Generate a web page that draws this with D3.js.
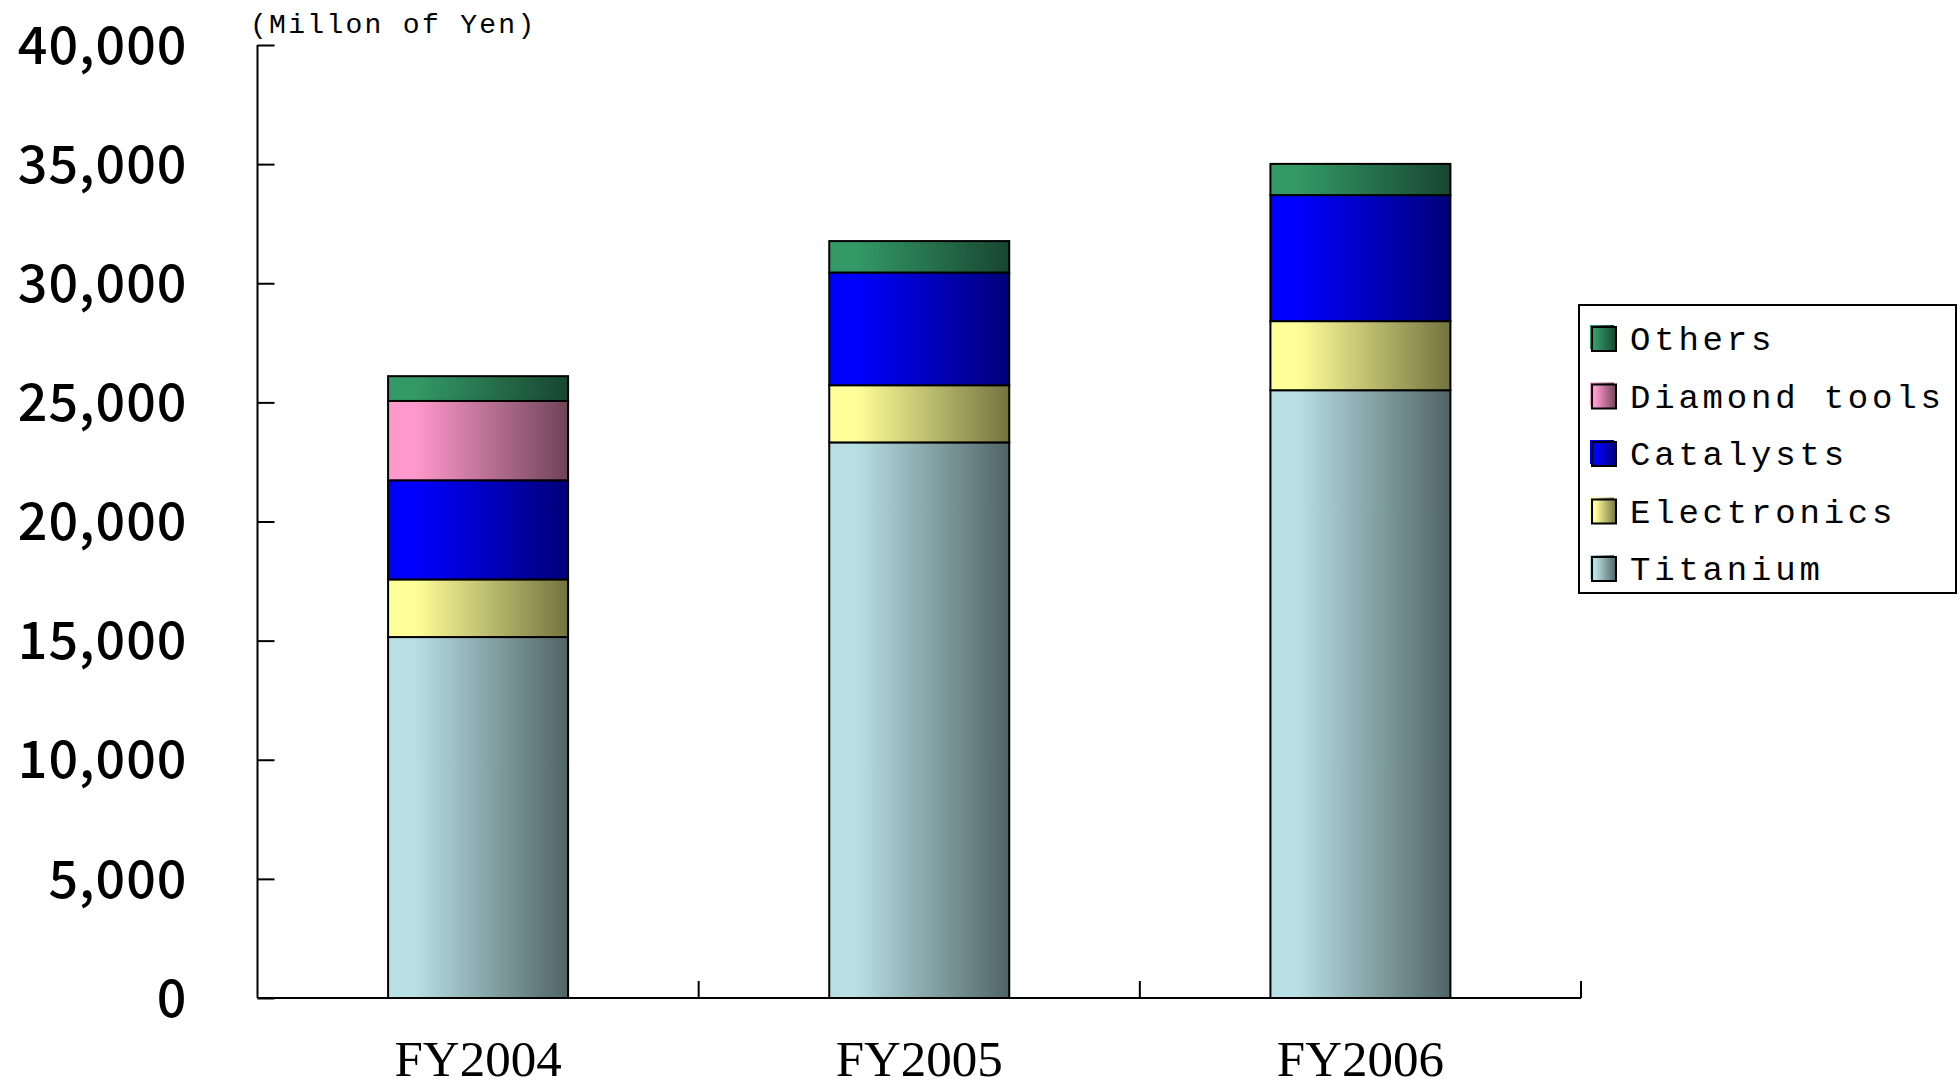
<!DOCTYPE html>
<html>
<head>
<meta charset="utf-8">
<script src="https://cdn.jsdelivr.net/npm/d3@7"></script>
<style>
  body { margin: 0; background: #fff; }
</style>
</head>
<body>
<div id="chart"></div>
<script>
// data (Millon of Yen)
var categories = ["FY2004", "FY2005", "FY2006"]
var seriesNames = ["Titanium", "Electronics", "Catalysts", "Diamond tools", "Others"]
var titanium = [15150, 23320, 25510]
var electronics = [2420, 2400, 2900]
var catalysts = [4160, 4730, 5290]
var diamondTools = [3330, 0, 0]
var others = [1040, 1320, 1310]
var yTicks = [0, 5000, 10000, 15000, 20000, 25000, 30000, 35000, 40000]

var seriesValues = [titanium, electronics, catalysts, diamondTools, others]
var lightColors = ["#b8e0e4", "#ffff99", "#0000ff", "#ff99cc", "#339966"]
var darkColors = ["#506466", "#737340", "#000078", "#6e4458", "#184630"]

var width = 1960, height = 1090
var margin = {top: 45, right: 379, bottom: 92, left: 257.5}

var svg = d3.select("#chart")
    .append("svg")
    .attr("width", width)
    .attr("height", height)

var table = categories.map(function(c, i){
    var row = {cat: c}
    seriesNames.forEach(function(s, j){ row[s] = seriesValues[j][i] })
    return row
})
var stacked = d3.stack().keys(seriesNames)(table)

var x = d3.scaleBand()
    .domain(categories)
    .range([margin.left, width - margin.right])
    .paddingInner(0.592)
    .paddingOuter(0.296)

var y = d3.scaleLinear()
    .domain([0, 40000])
    .range([height - margin.bottom, margin.top])

// gradients
var defs = svg.append("defs")
seriesNames.forEach(function(s, j){
    var g = defs.append("linearGradient")
        .attr("id", "grad" + j)
        .attr("x1", "0%").attr("x2", "100%")
        .attr("y1", "0%").attr("y2", "0%")
    g.append("stop").attr("offset", "0%").attr("stop-color", lightColors[j])
    g.append("stop").attr("offset", "15%").attr("stop-color", lightColors[j])
    g.append("stop").attr("offset", "100%").attr("stop-color", darkColors[j])
})

// bars
svg.append("g").attr("id", "bars")
    .selectAll("g")
    .data(stacked)
    .enter().append("g")
    .each(function(layer, j){
        d3.select(this).selectAll("rect")
            .data(layer.filter(function(d){ return d[1] - d[0] > 0 }))
            .enter().append("rect")
            .attr("x", function(d){ return x(d.data.cat) })
            .attr("y", function(d){ return y(d[1]) })
            .attr("width", x.bandwidth())
            .attr("height", function(d){ return y(d[0]) - y(d[1]) })
            .style("fill", "url(#grad" + j + ")")
            .style("stroke", "#000")
            .style("stroke-width", 2)
    })

// y axis
var yAxis = d3.axisLeft(y)
    .tickValues(yTicks)
    .tickSize(-17)
    .tickPadding(70)
    .tickFormat(d3.format(","))
var gy = svg.append("g")
    .attr("transform", "translate(" + margin.left + ",0)")
    .call(yAxis)
gy.select(".domain").attr("d", "M0," + y(40000) + "V" + y(0)).style("stroke", "#000").style("stroke-width", 2)
gy.selectAll(".tick line").style("stroke", "#000").style("stroke-width", 2)
gy.selectAll(".tick text")
    .style("font-family", "'Noto Sans CJK JP', 'Noto Sans', sans-serif")
    .style("font-size", "52px")
    .style("font-weight", "500")
    .style("letter-spacing", "1px")
    .style("fill", "#000")
    .attr("dy", "0.35em")

// x axis
var xAxis = d3.axisBottom(x).tickSize(0).tickPadding(42)
var gx = svg.append("g")
    .attr("transform", "translate(0," + y(0) + ")")
    .call(xAxis)
gx.select(".domain").attr("d", "M" + margin.left + ",0H" + (width - margin.right)).style("stroke", "#000").style("stroke-width", 2)
gx.selectAll(".tick text")
    .style("font-family", "'Liberation Serif', serif")
    .style("font-size", "51px")
    .style("fill", "#000")

// category separator ticks
var step = x.step()
gx.selectAll(".sep")
    .data(categories)
    .enter().append("line")
    .attr("x1", function(d){ return x(d) + x.bandwidth() + step * x.paddingInner() / 2 })
    .attr("x2", function(d){ return x(d) + x.bandwidth() + step * x.paddingInner() / 2 })
    .attr("y1", 0).attr("y2", -17)
    .style("stroke", "#000").style("stroke-width", 2)

// unit label
svg.append("text")
    .attr("x", 250).attr("y", 33)
    .text("(Millon of Yen)")
    .style("font-family", "'Liberation Mono', monospace")
    .style("font-size", "28px")
    .style("letter-spacing", "2.3px")
    .style("fill", "#000")

// legend
var legendX = 1579, legendY = 305, legendW = 377, legendH = 288, rowH = 57.5
var legend = svg.append("g").attr("id", "legend")
legend.append("rect")
    .attr("x", legendX).attr("y", legendY)
    .attr("width", legendW).attr("height", legendH)
    .style("fill", "#fff").style("stroke", "#000").style("stroke-width", 2)

var legendOrder = seriesNames.slice().reverse()
var items = legend.selectAll(".item")
    .data(legendOrder)
    .enter().append("g")
    .attr("transform", function(d, i){ return "translate(" + (legendX + 11) + "," + (legendY + 34 + i * rowH) + ")" })
items.append("rect")
    .attr("x", 0).attr("y", -14)
    .attr("width", 24).attr("height", 24)
    .style("fill", function(d){ return "url(#grad" + seriesNames.indexOf(d) + ")" })
items.append("rect")
    .attr("x", 2).attr("y", -12)
    .attr("width", 24).attr("height", 24)
    .style("fill", function(d){ return "url(#grad" + seriesNames.indexOf(d) + ")" })
    .style("stroke", "#000").style("stroke-width", 2)
items.append("text")
    .attr("x", 40).attr("y", 11)
    .text(function(d){ return d })
    .style("font-family", "'Liberation Mono', monospace")
    .style("font-size", "34px")
    .style("letter-spacing", "3.8px")
    .style("fill", "#000")
</script>
</body>
</html>
